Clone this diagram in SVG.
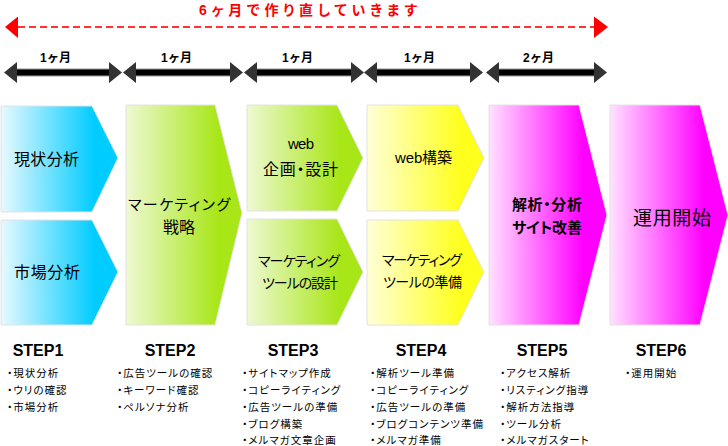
<svg xmlns="http://www.w3.org/2000/svg" width="728" height="446" viewBox="0 0 728 446">
<defs>
<linearGradient id="gBlue" x1="0" y1="0" x2="1" y2="0">
<stop offset="0" stop-color="#e8f9ff"/><stop offset="0.8" stop-color="#00ccff"/><stop offset="1" stop-color="#00ccff"/>
</linearGradient>
<linearGradient id="gGreen" x1="0" y1="0" x2="1" y2="0">
<stop offset="0" stop-color="#eef9d2"/><stop offset="0.8" stop-color="#a8e617"/><stop offset="1" stop-color="#a8e617"/>
</linearGradient>
<linearGradient id="gYellow" x1="0" y1="0" x2="1" y2="0">
<stop offset="0" stop-color="#ffffd8"/><stop offset="0.8" stop-color="#ffff1e"/><stop offset="1" stop-color="#ffff1e"/>
</linearGradient>
<linearGradient id="gPink" x1="0" y1="0" x2="1" y2="0">
<stop offset="0" stop-color="#ffe2ff"/><stop offset="0.8" stop-color="#ff00ff"/><stop offset="1" stop-color="#ff00ff"/>
</linearGradient>
</defs>
<style>
text{font-family:"Liberation Sans","Noto Sans CJK JP",sans-serif;fill:#000;font-feature-settings:"palt"}
.title{font-size:14px;font-weight:bold;fill:#ff0000}
.mon{font-size:12px;font-weight:bold;text-anchor:middle;letter-spacing:1px}
.step{font-size:16px;font-weight:bold;text-anchor:middle}
.li{font-size:10.5px;letter-spacing:1px}
.shape{stroke:#e2e2e2;stroke-width:1}
.shaftO{stroke:#9a9a9a;stroke-width:8}
.shaft{stroke:#000;stroke-width:6}
.head{fill:#333}
.red{stroke:#ff3333;stroke-width:2;stroke-dasharray:7 4}
.redhead{fill:#ff0000}
</style>

<text class="title" x="199" y="15" textLength="218">6ヶ月で作り直していきます</text>

<g id="connectors">
<line class="red" x1="18" y1="27" x2="594" y2="27"/>
<polygon class="redhead" points="5,27 18,16.5 18,38"/>
<polygon class="redhead" points="608,27 594,16.5 594,38"/>

<line class="shaftO" x1="16" y1="72.5" x2="110" y2="72.5"/>
<line class="shaft" x1="16" y1="72.5" x2="110" y2="72.5"/>
<polygon class="head" points="4,72.5 17,62 17,83"/>
<polygon class="head" points="122,72.5 109,62 109,83"/>

<line class="shaftO" x1="135" y1="72.5" x2="231" y2="72.5"/>
<line class="shaft" x1="135" y1="72.5" x2="231" y2="72.5"/>
<polygon class="head" points="123,72.5 136,62 136,83"/>
<polygon class="head" points="243,72.5 230,62 230,83"/>

<line class="shaftO" x1="256" y1="72.5" x2="352" y2="72.5"/>
<line class="shaft" x1="256" y1="72.5" x2="352" y2="72.5"/>
<polygon class="head" points="244,72.5 257,62 257,83"/>
<polygon class="head" points="364,72.5 351,62 351,83"/>

<line class="shaftO" x1="376" y1="72.5" x2="471" y2="72.5"/>
<line class="shaft" x1="376" y1="72.5" x2="471" y2="72.5"/>
<polygon class="head" points="364,72.5 377,62 377,83"/>
<polygon class="head" points="483,72.5 470,62 470,83"/>

<line class="shaftO" x1="498" y1="72.5" x2="595" y2="72.5"/>
<line class="shaft" x1="498" y1="72.5" x2="595" y2="72.5"/>
<polygon class="head" points="486,72.5 499,62 499,83"/>
<polygon class="head" points="607,72.5 594,62 594,83"/>

<text class="mon" x="56" y="62">1ヶ月</text>
<text class="mon" x="177" y="62">1ヶ月</text>
<text class="mon" x="298" y="62">1ヶ月</text>
<text class="mon" x="420" y="62">1ヶ月</text>
<text class="mon" x="539" y="62">2ヶ月</text>
</g>

<g id="step1-genjo">
<polygon class="shape" fill="url(#gBlue)" points="1,106 92,106 118,158 92,212 1,212"/>
<text x="14" y="165" font-size="16" textLength="65">現状分析</text>
</g>
<g id="step1-shijo">
<polygon class="shape" fill="url(#gBlue)" points="1,220 92,220 118,272 92,325 1,325"/>
<text x="14" y="278" font-size="16" textLength="66">市場分析</text>
</g>
<g id="step2-senryaku">
<polygon class="shape" fill="url(#gGreen)" points="126,105 215,105 242,213 215,325 126,325"/>
<text x="128" y="210" font-size="15" textLength="102">マーケティング</text>
<text x="179" y="233" font-size="16" text-anchor="middle">戦略</text>
</g>
<g id="step3-web">
<polygon class="shape" fill="url(#gGreen)" points="247,105 337,105 363,158 337,211 247,211"/>
<text x="288" y="149" font-size="15" textLength="26">web</text>
<text x="263" y="175" font-size="16" textLength="75">企画・設計</text>
</g>
<g id="step3-tool">
<polygon class="shape" fill="url(#gGreen)" points="247,219 337,219 363,272 337,325 247,325"/>
<text x="258" y="266" font-size="14" textLength="82">マーケティング</text>
<text x="262" y="288" font-size="14" textLength="76">ツールの設計</text>
</g>
<g id="step4-web">
<polygon class="shape" fill="url(#gYellow)" points="367,105 458,105 484,158 458,211 367,211"/>
<text x="395" y="163" font-size="15" textLength="57">web構築</text>
</g>
<g id="step4-tool">
<polygon class="shape" fill="url(#gYellow)" points="367,220 458,220 484,272 458,325 367,325"/>
<text x="382" y="265" font-size="14" textLength="80">マーケティング</text>
<text x="383" y="287" font-size="14" textLength="79">ツールの準備</text>
</g>
<g id="step5-kaiseki">
<polygon class="shape" fill="url(#gPink)" points="489,105 579,105 607,215 579,325 489,325"/>
<text x="512" y="210" font-size="15" font-weight="bold" textLength="70">解析・分析</text>
<text x="512" y="233" font-size="15" font-weight="bold" textLength="70">サイト改善</text>
</g>
<g id="step6-unyo">
<polygon class="shape" fill="url(#gPink)" points="610,105 700,105 728,215 700,325 610,325"/>
<text x="633" y="225" font-size="19" textLength="78">運用開始</text>
</g>

<g id="step1-list">
<text class="step" x="38" y="356">STEP1</text>
<text class="li" x="7" y="377">・現状分析</text>
<text class="li" x="7" y="394">・ウリの確認</text>
<text class="li" x="7" y="411">・市場分析</text>
</g>
<g id="step2-list">
<text class="step" x="170" y="356">STEP2</text>
<text class="li" x="117" y="377">・広告ツールの確認</text>
<text class="li" x="117" y="394">・キーワード確認</text>
<text class="li" x="117" y="411">・ペルソナ分析</text>
</g>
<g id="step3-list">
<text class="step" x="293" y="356">STEP3</text>
<text class="li" x="242" y="377">・サイトマップ作成</text>
<text class="li" x="242" y="394">・コピーライティング</text>
<text class="li" x="242" y="411">・広告ツールの準備</text>
<text class="li" x="242" y="427.5">・ブログ構築</text>
<text class="li" x="242" y="444">・メルマガ文章企画</text>
</g>
<g id="step4-list">
<text class="step" x="421" y="356">STEP4</text>
<text class="li" x="370" y="377">・解析ツール準備</text>
<text class="li" x="370" y="394">・コピーライティング</text>
<text class="li" x="370" y="411">・広告ツールの準備</text>
<text class="li" x="370" y="427.5">・ブログコンテンツ準備</text>
<text class="li" x="370" y="444">・メルマガ準備</text>
</g>
<g id="step5-list">
<text class="step" x="542" y="356">STEP5</text>
<text class="li" x="500" y="377">・アクセス解析</text>
<text class="li" x="500" y="394">・リスティング指導</text>
<text class="li" x="500" y="411">・解析方法指導</text>
<text class="li" x="500" y="427.5">・ツール分析</text>
<text class="li" x="500" y="444">・メルマガスタート</text>
</g>
<g id="step6-list">
<text class="step" x="661" y="356">STEP6</text>
<text class="li" x="625" y="377">・運用開始</text>
</g>
</svg>
